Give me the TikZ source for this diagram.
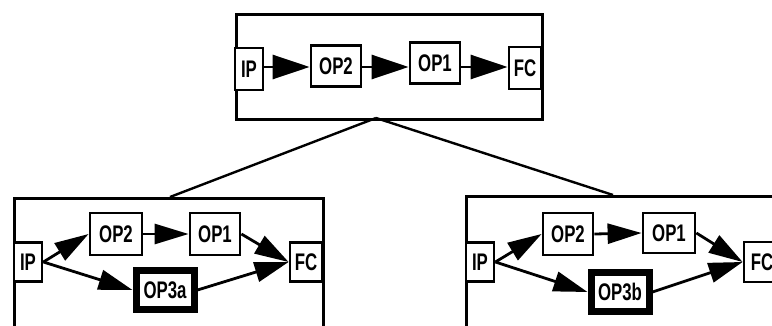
\documentclass[tikz,border=0pt]{standalone}
\usepackage{fontspec}
\newfontfamily\opfont[FakeStretch=0.7]{Liberation Sans}
\usetikzlibrary{arrows.meta}
\begin{document}
\begin{tikzpicture}[x=1pt,y=-1pt,
  frame/.style={draw, line width=3pt, inner sep=0pt, anchor=north west},
  opbox/.style={draw, line width=2.8pt, fill=white, inner sep=0pt,
    font=\opfont\bfseries\fontsize{24}{24}\selectfont,
    minimum width=50pt, minimum height=41pt},
  portbox/.style={opbox, minimum width=28pt, minimum height=42pt},
  newop/.style={opbox, line width=7pt, minimum width=58pt, minimum height=39pt},
  bigflow/.style={line width=2.8pt, -{Triangle[length=37pt,width=24pt]}},
  flow/.style={line width=2.8pt, -{Triangle[length=34pt,width=20pt]}},
  tree/.style={line width=2.4pt}]
\useasboundingbox (0,0) rectangle (772,326);
\clip (0,0) rectangle (772,326);
\fill[white] (0,0) rectangle (772,326);

% top configuration
\node[frame, minimum width=306pt, minimum height=105pt] (top) at (235,13) {};
\node[portbox, minimum width=28pt] (tIP) at (249,69) {IP};
\node[opbox] (tOP2) at (336,66) {OP2};
\node[opbox] (tOP1) at (435,63) {OP1};
\node[portbox, minimum width=32pt] (tFC) at (525,68) {FC};
\draw[bigflow] (tIP.east |- 0,67) -- (tOP2.west |- 0,67);
\draw[bigflow] (tOP2.east |- 0,67) -- (tOP1.west |- 0,67);
\draw[bigflow] (tOP1.east |- 0,67) -- (tFC.west |- 0,67);

% left variant
\node[frame, minimum width=309pt, minimum height=150pt] (left) at (13,197) {};
\node[portbox, minimum width=28pt, minimum height=39pt] (lIP) at (28,262) {IP};
\node[opbox, minimum width=52pt, minimum height=42pt] (lOP2) at (116,234) {OP2};
\node[opbox, minimum height=42pt] (lOP1) at (215,234) {OP1};
\node[portbox, minimum width=32pt, minimum height=39pt] (lFC) at (306,262) {FC};
\node[newop] (lOP3) at (165,290) {OP3a};
\draw[flow] (lIP.east) -- (lOP2.west);
\draw[flow] (lOP2.east) -- (lOP1.west);
\draw[flow] (lOP1.east) -- (lFC.west);
\draw[flow] (lIP.east) -- (lOP3.west);
\draw[flow] (lOP3.east) -- (lFC.west);

% right variant (runs past the right edge)
\node[frame, minimum width=340pt, minimum height=150pt] (right) at (465,195) {};
\node[portbox, minimum width=28pt, minimum height=39pt] (rIP) at (480,262) {IP};
\node[opbox, minimum height=42pt] (rOP2) at (568,234) {OP2};
\node[opbox, minimum width=52pt, minimum height=40pt] (rOP1) at (669,233) {OP1};
\node[portbox, minimum width=36pt, minimum height=40pt] (rFC) at (762,262) {FC};
\node[newop] (rOP3) at (620,292) {OP3b};
\draw[flow] (rIP.east) -- (rOP2.west);
\draw[flow] (rOP2.east) -- (rOP1.west);
\draw[flow] (rOP1.east) -- (rFC.west);
\draw[flow] (rIP.east) -- (rOP3.west);
\draw[flow] (rOP3.east) -- (rFC.west);

% refinement links
\coordinate (apex) at (376,118);
\coordinate (ljoin) at (170,197);
\coordinate (rjoin) at (613,195);
\draw[tree] (apex) -- (ljoin);
\draw[tree] (apex) -- (rjoin);
\end{tikzpicture}
\end{document}
